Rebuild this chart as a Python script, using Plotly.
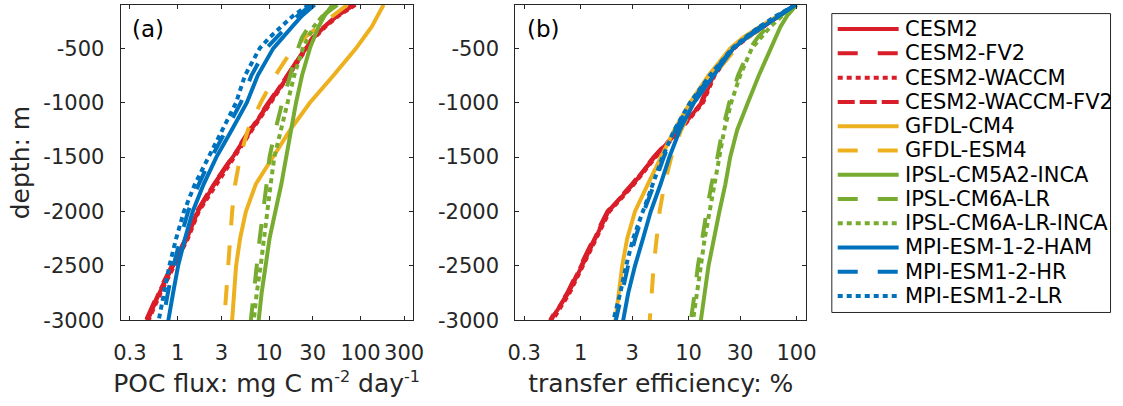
import plotly.graph_objects as go

W, H = 1123, 406

depth = [-100, -200, -300, -400, -500, -750, -1000, -1250, -1500, -1750,
         -2000, -2250, -2500, -2750, -3000]

models = ["CESM2", "CESM2-FV2", "CESM2-WACCM", "CESM2-WACCM-FV2",
          "GFDL-CM4", "GFDL-ESM4",
          "IPSL-CM5A2-INCA", "IPSL-CM6A-LR", "IPSL-CM6A-LR-INCA",
          "MPI-ESM-1-2-HAM", "MPI-ESM1-2-HR", "MPI-ESM1-2-LR"]

# POC flux, mg C m-2 day-1
poc_cesm2 = [85, 55.7, 40.4, 30.8, 25.2, 16.2, 10.1, 6.3, 4.04, 2.52, 1.66, 1.26, 0.89, 0.63, 0.47]
poc_cesm2_fv2 = [82, 54, 39.5, 30.0, 24.5, 15.8, 9.8, 6.1, 3.95, 2.45, 1.62, 1.22, 0.86, 0.61, 0.45]
poc_cesm2_waccm = [88, 57.5, 41.5, 31.6, 25.8, 16.6, 10.4, 6.5, 4.15, 2.6, 1.70, 1.29, 0.91, 0.65, 0.48]
poc_cesm2_waccm_fv2 = [84, 55, 40, 30.4, 24.9, 16.0, 10.0, 6.2, 4.0, 2.48, 1.64, 1.24, 0.88, 0.62, 0.46]
poc_gfdl_cm4 = [178.6, 153.8, 132.7, 108.8, 89.3, 50.5, 27.9, 17.0, 11.1, 7.14, 5.57, 4.81, 4.35, 4.14, 3.94]
poc_gfdl_esm4 = [71.4, 49.3, 34.8, 24.6, 18.3, 11.7, 8.08, 5.86, 4.81, 4.25, 3.94, 3.75, 3.57, 3.40, 3.23]
poc_ipsl_cm5a2_inca = [49.3, 40.4, 34.8, 30.8, 27.9, 22.9, 19.7, 17.4, 15.4, 13.6, 11.7, 10.1, 9.15, 8.28, 7.69]
poc_ipsl_cm6a_lr = [55.7, 38.5, 27.2, 22.9, 20.7, 17.0, 13.9, 11.7, 10.1, 9.38, 8.49, 7.88, 7.32, 6.80, 6.31]
poc_ipsl_cm6a_lr_inca = [53.1, 38.5, 30.8, 26.5, 23.4, 18.8, 15.8, 13.3, 11.4, 10.4, 9.6, 8.7, 8.08, 7.32, 6.80]
poc_mpi_ham = [31.5, 22.9, 17.9, 14.3, 11.1, 7.5, 5.7, 3.9, 2.65, 1.92, 1.46, 1.20, 1.01, 0.89, 0.79]
poc_mpi_hr = [29, 20.5, 15.6, 12.0, 9.3, 6.4, 4.9, 3.4, 2.35, 1.7, 1.3, 1.07, 0.9, 0.78, 0.69]
poc_mpi_lr = [27.2, 18.3, 13.6, 10.1, 7.88, 5.44, 4.35, 3.08, 2.18, 1.54, 1.17, 0.96, 0.81, 0.70, 0.62]

# transfer efficiency, %
te_cesm2 = [98.9, 69.2, 48.5, 34.7, 25.9, 17.0, 13.3, 8.19, 4.85, 3.06, 1.81, 1.35, 1.03, 0.77, 0.53]
te_cesm2_fv2 = [98.5, 68, 47.5, 34.0, 25.3, 16.6, 13.0, 8.0, 4.75, 2.98, 1.77, 1.32, 1.0, 0.75, 0.52]
te_cesm2_waccm = [99.2, 70, 49.3, 35.3, 26.4, 17.4, 13.6, 8.4, 4.95, 3.12, 1.85, 1.38, 1.05, 0.79, 0.55]
te_cesm2_waccm_fv2 = [98.7, 68.8, 48.2, 34.5, 25.7, 16.9, 13.2, 8.1, 4.8, 3.03, 1.79, 1.34, 1.02, 0.76, 0.53]
te_gfdl_cm4 = [98.9, 66.4, 45.6, 31.9, 24.3, 15.3, 10.3, 7.38, 5.50, 4.19, 3.19, 2.70, 2.43, 2.24, 2.10]
te_gfdl_esm4 = [98.9, 66.4, 48.5, 35.5, 27.6, 17.0, 11.2, 8.54, 6.92, 5.98, 5.39, 5.06, 4.75, 4.56, 4.37]
te_ipsl_cm5a2_inca = [100, 82, 71, 64, 57.4, 44.7, 35.4, 28.2, 24.3, 21.9, 19.3, 17.0, 15.3, 14.1, 13.0]
te_ipsl_cm6a_lr = [99, 70.7, 53.9, 43.7, 36.9, 28.7, 23.8, 20.6, 18.5, 16.3, 14.7, 13.3, 12.2, 11.4, 10.5]
te_ipsl_cm6a_lr_inca = [99, 73.8, 57.4, 46.5, 38.5, 30.0, 24.8, 21.4, 19.3, 17.4, 15.7, 14.1, 13.0, 11.9, 11.0]
te_mpi_ham = [98, 69.2, 48.5, 34.7, 25.9, 17.0, 11.2, 8.3, 6.64, 5.50, 4.46, 3.78, 3.19, 2.76, 2.48]
te_mpi_hr = [97.5, 66.5, 46.5, 33.8, 25.6, 16.0, 10.6, 7.55, 5.9, 4.8, 3.85, 3.2, 2.75, 2.42, 2.12]
te_mpi_lr = [97, 65.0, 45.6, 33.3, 25.4, 15.7, 10.3, 7.38, 5.74, 4.65, 3.70, 3.06, 2.64, 2.33, 2.01]

poc = [poc_cesm2, poc_cesm2_fv2, poc_cesm2_waccm, poc_cesm2_waccm_fv2,
       poc_gfdl_cm4, poc_gfdl_esm4,
       poc_ipsl_cm5a2_inca, poc_ipsl_cm6a_lr, poc_ipsl_cm6a_lr_inca,
       poc_mpi_ham, poc_mpi_hr, poc_mpi_lr]
te = [te_cesm2, te_cesm2_fv2, te_cesm2_waccm, te_cesm2_waccm_fv2,
      te_gfdl_cm4, te_gfdl_esm4,
      te_ipsl_cm5a2_inca, te_ipsl_cm6a_lr, te_ipsl_cm6a_lr_inca,
      te_mpi_ham, te_mpi_hr, te_mpi_lr]

RED, ORANGE, GREEN, BLUE = "#D91E2A", "#EDB120", "#77AC30", "#0072BD"
SOLID, DASH, DOT, DASHDOT = "solid", "20px,20px", "5px,4px", "17px,5px"
colors = [RED, RED, RED, RED, ORANGE, ORANGE, GREEN, GREEN, GREEN, BLUE, BLUE, BLUE]
dashes = [SOLID, DASH, DOT, DASHDOT, SOLID, DASH, SOLID, DASH, DOT, SOLID, DASH, DOT]

poc_ticks = [0.3, 1, 3, 10, 30, 100, 300]
te_ticks = [0.3, 1, 3, 10, 30, 100]
depth_ticks = [-3000, -2500, -2000, -1500, -1000, -500]
depth_ticktext = ["-3000", "-2500", "-2000", "-1500", "-1000", "-500"]

LW = 4
AXC = "#262626"
FONT = "DejaVu Sans"
TICK_SIZE = 21
TITLE_SIZE = 25

fig = go.Figure()
for name, c, d, xa in zip(models, colors, dashes, poc):
    fig.add_trace(go.Scatter(x=xa, y=depth, mode="lines", name=name, showlegend=False,
                             line=dict(color=c, width=LW, dash=d), xaxis="x", yaxis="y"))
for name, c, d, xb in zip(models, colors, dashes, te):
    fig.add_trace(go.Scatter(x=xb, y=depth, mode="lines", name=name, showlegend=False,
                             line=dict(color=c, width=LW, dash=d), xaxis="x2", yaxis="y2"))

ydom = [1 - 330 / H, 1 - 5 / H]
common = dict(showline=True, linecolor=AXC, linewidth=1, mirror="ticks", ticks="inside",
              ticklen=4, tickcolor=AXC, showgrid=False, zeroline=False,
              tickfont=dict(family=FONT, size=TICK_SIZE, color=AXC))
title_font = dict(family=FONT, size=TITLE_SIZE, color=AXC)
sup = '<sup><span style="font-size:16px">{}</span></sup>'

fig.update_layout(
    width=W, height=H, margin=dict(l=0, r=0, t=0, b=0),
    paper_bgcolor="white", plot_bgcolor="white",
    font=dict(family=FONT, color=AXC),
    xaxis=dict(domain=[114.5 / W, 411.7 / W], type="log", range=[-0.625, 2.571],
               tickvals=poc_ticks, ticktext=[str(t) for t in poc_ticks], anchor="y",
               ticklabelstandoff=14,
               title=dict(text="POC flux: mg C m" + sup.format("-2") + " day" + sup.format("-1"),
                          font=title_font, standoff=10),
               **common),
    yaxis=dict(domain=ydom, range=[-3000, -100], tickvals=depth_ticks,
               ticktext=depth_ticktext, anchor="x", ticklabelstandoff=11,
               title=dict(text="depth: m", font=title_font, standoff=6),
               **common),
    xaxis2=dict(domain=[516 / W, 812 / W], type="log", range=[-0.605, 2.09],
                tickvals=te_ticks, ticktext=[str(t) for t in te_ticks], anchor="y2",
                ticklabelstandoff=14,
                title=dict(text="transfer efficiency: %", font=title_font, standoff=10),
                **common),
    yaxis2=dict(domain=ydom, range=[-3000, -100], tickvals=depth_ticks,
                ticktext=depth_ticktext, anchor="x2", ticklabelstandoff=11, **common),
)

# panel letters
for xr, yr, lab in [("x domain", "y domain", "(a)"), ("x2 domain", "y2 domain", "(b)")]:
    fig.add_annotation(x=0.033, y=0.925, xref=xr, yref=yr, text=lab, showarrow=False,
                       xanchor="left", yanchor="middle",
                       font=dict(family=FONT, size=23, color="#000000"))


# legend box drawn alongside the panels
def px(xp):
    return xp / W


def py(yp):
    return 1 - yp / H


fig.add_shape(type="rect", xref="paper", yref="paper",
              x0=px(838), x1=px(1121.5), y0=py(322), y1=py(14),
              line=dict(color=AXC, width=1), fillcolor="white", layer="below")
for i, (name, c, d) in enumerate(zip(models, colors, dashes)):
    yc = 30 + 25 * i
    fig.add_shape(type="line", xref="paper", yref="paper",
                  x0=px(844), x1=px(906), y0=py(yc), y1=py(yc),
                  line=dict(color=c, width=LW, dash=d))
    fig.add_annotation(x=px(910), y=py(yc), xref="paper", yref="paper", text=name,
                       showarrow=False, xanchor="left", yanchor="middle",
                       font=dict(family=FONT, size=21, color="#000000"))

fig.write_html("out.html")
